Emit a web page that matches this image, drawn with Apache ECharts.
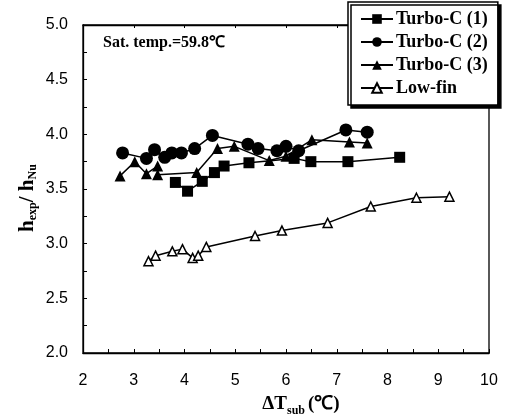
<!DOCTYPE html>
<html><head><meta charset="utf-8">
<script src="https://cdn.jsdelivr.net/npm/echarts@6/dist/echarts.min.js"></script>
<style>html,body{margin:0;padding:0;background:#fff}#c{width:507px;height:416px}</style>
</head><body><div id="c"></div>
<script>
// x = ΔTsub (°C), y = h_exp / h_Nu
const turbo1 = [[3.82,3.56],[4.06,3.48],[4.35,3.57],[4.59,3.65],[4.78,3.71],[5.27,3.74],[6.16,3.78],[6.49,3.75],[7.22,3.75],[8.24,3.79]];
const turbo2 = [[2.78,3.83],[3.25,3.78],[3.41,3.86],[3.61,3.79],[3.75,3.83],[3.94,3.83],[4.20,3.87],[4.55,3.99],[5.25,3.91],[5.45,3.87],[5.82,3.85],[6.00,3.89],[6.25,3.85],[7.18,4.04],[7.60,4.02]];
const turbo3 = [[2.73,3.62],[3.02,3.75],[3.25,3.64],[3.47,3.71],[3.47,3.63],[4.24,3.65],[4.65,3.87],[4.98,3.89],[5.67,3.76],[6.00,3.80],[6.51,3.95],[7.25,3.93],[7.60,3.92]];
const lowfin = [[3.29,2.84],[3.43,2.89],[3.76,2.93],[3.96,2.95],[4.16,2.87],[4.27,2.89],[4.43,2.97],[5.39,3.07],[5.92,3.12],[6.82,3.19],[7.67,3.34],[8.57,3.42],[9.22,3.43]];
const seriesNames = ['Turbo-C (1)','Turbo-C (2)','Turbo-C (3)','Low-fin'];
const xRange = [2, 10], xStep = 1;
const yRange = [2.0, 5.0], yStep = 0.5;
const annotation = 'Sat. temp.=59.8\u2103';

const chart = echarts.init(document.getElementById('c'), null, {renderer:'canvas'});
const serif = '"Liberation Serif","Times New Roman",serif';
const sans = '"Liberation Sans",Arial,sans-serif';
const axisLine = {show:true, lineStyle:{color:'#000', width:1.3}};
function mk(name, data, symbol, size, open){
  return {
    name, type:'line', data, symbol, symbolSize:size,
    lineStyle:{color:'#000', width:1.5},
    itemStyle: open ? {color:'#fff', borderColor:'#000', borderWidth:1.5} : {color:'#000', borderColor:'#000', borderWidth:0},
    emphasis:{disabled:true}, animation:false, z: open?3:4
  };
}
chart.setOption({
  animation:false,
  backgroundColor:'#fff',
  grid:{left:83, right:18, top:25, bottom:63, show:true, borderColor:'#000', borderWidth:1.3, backgroundColor:'transparent'},
  xAxis:[{
    type:'value', min:xRange[0], max:xRange[1], interval:xStep,
    axisLine, splitLine:{show:false},
    axisTick:{show:true, inside:true, length:4, lineStyle:{color:'#000'}},
    minorTick:{show:true, splitNumber:2, length:4, lineStyle:{color:'#000'}},
    axisLabel:{color:'#000', fontFamily:sans, fontSize:16, margin:20}
  },{
    type:'value', position:'top', min:xRange[0], max:xRange[1], interval:xStep,
    axisLine, splitLine:{show:false},
    axisTick:{show:true, inside:true, length:3, lineStyle:{color:'#000'}},
    axisLabel:{show:false}
  }],
  yAxis:{
    type:'value', min:yRange[0], max:yRange[1], interval:yStep,
    axisLine, splitLine:{show:false},
    axisTick:{show:true, inside:true, length:4, lineStyle:{color:'#000'}},
    minorTick:{show:true, splitNumber:2, length:4, lineStyle:{color:'#000'}},
    axisLabel:{color:'#000', fontFamily:sans, fontSize:16, margin:15, formatter:v=>v.toFixed(1)}
  },
  legend:{
    orient:'vertical', left:348, top:2,
    data:seriesNames,
    itemWidth:32, itemHeight:12, itemGap:5,
    padding:[8,10,8,12],
    backgroundColor:'#fff', borderColor:'#000', borderWidth:1.5,
    shadowColor:'#000', shadowBlur:0, shadowOffsetX:3, shadowOffsetY:3,
    textStyle:{fontFamily:serif, fontWeight:'bold', fontSize:18, color:'#000', lineHeight:18, padding:[0,0,0,-2]},
    selectedMode:false, z:10
  },
  graphic:[
    {type:'text', left:103, top:35, style:{text:annotation, font:'bold 16px '+serif, fill:'#000'}},
    {type:'text', x:301, y:406, style:{
      text:'{a|\u0394T}{b|sub}{a|(\u2103)}', align:'center', verticalAlign:'middle',
      rich:{a:{fontFamily:serif, fontWeight:'bold', fontSize:19, lineHeight:22, verticalAlign:'top'},
            b:{fontFamily:serif, fontWeight:'bold', fontSize:12, lineHeight:22, verticalAlign:'bottom', padding:[0,3,0,0]}}
    }},
    {type:'text', x:28, y:198, rotation:Math.PI/2, style:{
      text:'{a|h}{b|exp}{a|/ h}{b|Nu}', align:'center', verticalAlign:'middle',
      rich:{a:{fontFamily:serif, fontWeight:'bold', fontSize:21, lineHeight:22, verticalAlign:'top'},
            b:{fontFamily:serif, fontWeight:'bold', fontSize:12, lineHeight:22, verticalAlign:'bottom'}}
    }}
  ],
  series:[
    mk(seriesNames[0], turbo1, 'rect', 11, false),
    mk(seriesNames[1], turbo2, 'circle', 13, false),
    mk(seriesNames[2], turbo3, 'triangle', 11, false),
    mk(seriesNames[3], lowfin, 'triangle', 9, true)
  ]
});
</script></body></html>
